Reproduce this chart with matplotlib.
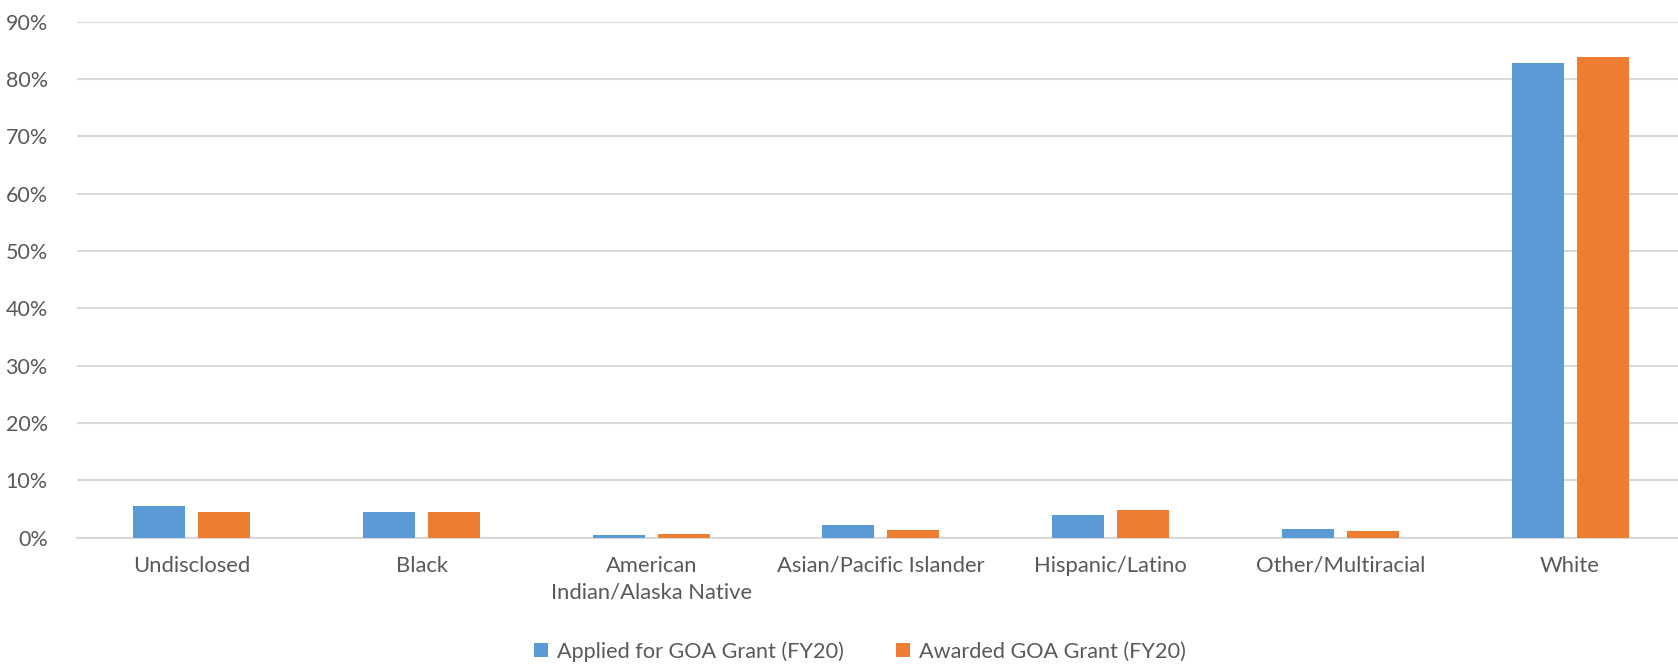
import matplotlib
matplotlib.use("Agg")
import matplotlib.pyplot as plt
import numpy as np
from matplotlib.ticker import PercentFormatter

plt.rcParams["font.family"] = ["Lato", "DejaVu Sans"]

categories = ["Undisclosed", "Black", "American\nIndian/Alaska Native",
              "Asian/Pacific Islander", "Hispanic/Latino", "Other/Multiracial", "White"]
applied = [5.5, 4.5, 0.5, 2.2, 3.9, 1.5, 82.8]
awarded = [4.5, 4.5, 0.6, 1.4, 4.8, 1.2, 83.9]

blue = "#5B9BD5"
orange = "#ED7D31"
txt = "#595959"
grid = "#d9d9d9"

fig = plt.figure(figsize=(16.78, 6.64), dpi=100)
ax = fig.add_axes([0.0459, 0.1902, 0.9541, 0.7771])

x = np.arange(len(categories))
w = 0.2265
off = 0.1415
ax.bar(x - off, applied, w, color=blue, label="Applied for GOA Grant (FY20)", zorder=3)
ax.bar(x + off, awarded, w, color=orange, label="Awarded GOA Grant (FY20)", zorder=3)

ax.set_xlim(-0.5, 6.47)
ax.set_ylim(0, 90)
ax.set_yticks(np.arange(0, 91, 10))
ax.yaxis.set_major_formatter(PercentFormatter(decimals=0))
ax.yaxis.grid(True, color=grid, linewidth=1.5, zorder=0)
ax.set_xticks(x)
ax.set_xticklabels(categories, fontsize=15.8, color=txt, linespacing=1.45)
for lab in ax.get_yticklabels():
    lab.set_fontsize(15.5)
    lab.set_color(txt)
ax.tick_params(axis="both", length=0)
ax.tick_params(axis="x", pad=13)
ax.tick_params(axis="y", pad=21)
for s in ["top", "right", "left"]:
    ax.spines[s].set_visible(False)
ax.spines["bottom"].set_color(grid)
ax.spines["bottom"].set_linewidth(1.5)

fig.legend(loc="center", bbox_to_anchor=(0.5125, 0.019), ncol=2, frameon=False,
           fontsize=15.6, labelcolor=txt, handlelength=0.65, handleheight=0.65,
           handletextpad=0.4, columnspacing=2.4)

fig.savefig("out.png", dpi=100)
